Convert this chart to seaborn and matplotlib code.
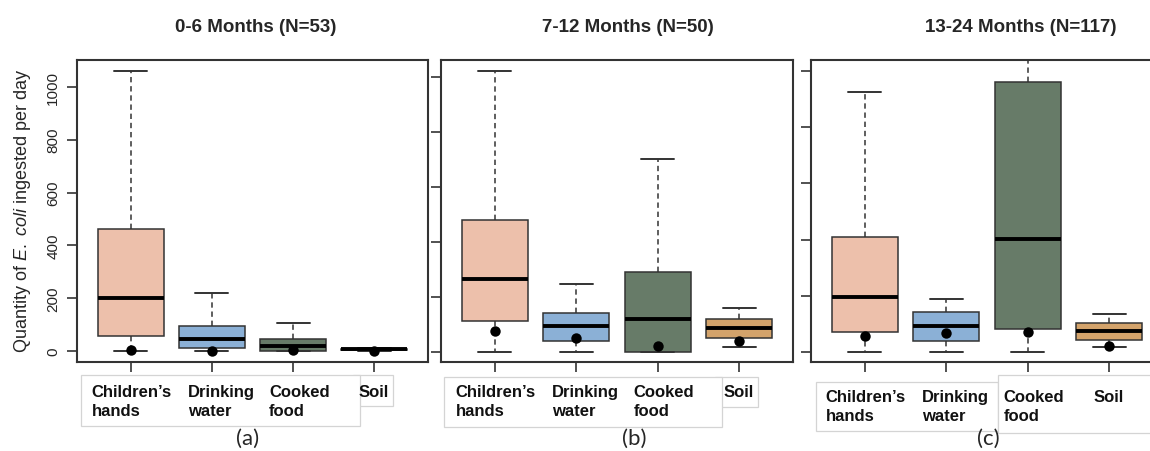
import numpy as np
import pandas as pd
import seaborn as sns
import matplotlib
matplotlib.use("Agg")
import matplotlib.pyplot as plt
import matplotlib.transforms as mtransforms
from matplotlib.patches import Rectangle

# ---------------- data ----------------
categories = ["Children's hands", "Drinking water", "Cooked food", "Soil"]
tick_labels = ["Children\u2019s\nhands", "Drinking\nwater", "Cooked\nfood", "Soil"]
panel_titles = ["0-6 Months (N=53)", "7-12 Months (N=50)", "13-24 Months (N=117)"]
panel_tags = ["(a)", "(b)", "(c)"]
y_ticks = [0, 200, 400, 600, 800, 1000]
colors = ["#EDC0AB", "#8BB0D6", "#677B68", "#D3A36B"]

# five-number summaries: [lower whisker, Q1, median, Q3, upper whisker]
hands_0_6 = [0, 56, 201, 462, 1061]
water_0_6 = [0, 11, 44, 96, 220]
food_0_6 = [0, 1, 20, 46, 107]
soil_0_6 = [0, 3, 6, 9, 12]
dots_0_6 = [5, -2, 2, -1]

hands_7_12 = [0, 113, 267, 479, 1022]
water_7_12 = [0, 42, 95, 143, 249]
food_7_12 = [0, 0, 121, 291, 701]
soil_7_12 = [19, 51, 86, 119, 161]
dots_7_12 = [78, 50, 23, 41]

hands_13_24 = [0, 70, 195, 410, 925]
water_13_24 = [0, 40, 93, 143, 189]
food_13_24 = [0, 81, 403, 962, 1150]
soil_13_24 = [18, 44, 74, 102, 134]
dots_13_24 = [55, 67, 72, 21]

summaries = [
    [hands_0_6, water_0_6, food_0_6, soil_0_6],
    [hands_7_12, water_7_12, food_7_12, soil_7_12],
    [hands_13_24, water_13_24, food_13_24, soil_13_24],
]
dots = [dots_0_6, dots_7_12, dots_13_24]

# ---------------- style ----------------
sns.set_theme(style="ticks")
plt.rcParams["font.family"] = ["Liberation Sans", "DejaVu Sans"]
plt.rcParams["mathtext.fontset"] = "custom"
plt.rcParams["mathtext.rm"] = "Liberation Sans"
plt.rcParams["mathtext.it"] = "Liberation Sans:italic"

W, H = 1150, 452
fig = plt.figure(figsize=(W / 100, H / 100), dpi=100)

def px_rect(x, y, w, h):
    return [x / W, 1 - (y + h) / H, w / W, h / H]

axes_px = [(77, 61, 351, 302), (441, 61, 352, 302), (811, 61, 352, 302)]
ylims = [(-42, 1102), (-36, 1062), (-36, 1039)]
title_pos = [(256, 27), (628, 27), (1021, 27)]
tag_pos = [(248, 439), (634, 439), (988, 439)]
label_dx = [-39, -24, -24, -16]
label_dy = [22, 22, 27]

# white label "cards" behind the category labels
cards = [
    [(353, 376, 40, 31), (81, 376, 279, 51)],
    [(715, 378, 43, 30), (444, 378, 278, 50)],
    [(816, 383, 182, 49), (998, 376, 170, 58)],
]
for group in cards:
    for (x, y, w, h) in group:
        fig.add_artist(Rectangle((x / W, 1 - (y + h) / H), w / W, h / H,
                                 transform=fig.transFigure, facecolor="white",
                                 edgecolor="#d4d4d4", linewidth=0.9, zorder=0))

palette = dict(zip(categories, colors))

for i in range(3):
    ax = fig.add_axes(px_rect(*axes_px[i]))
    df = pd.DataFrame({
        "source": np.repeat(categories, 5),
        "value": np.concatenate(summaries[i]).astype(float),
    })
    sns.boxplot(data=df, x="source", y="value", hue="source", order=categories,
                hue_order=categories, palette=palette, saturation=1, width=0.81,
                whis=(0, 100), linecolor="#333333", linewidth=1.1, legend=False,
                showfliers=False, ax=ax, capwidths=0.405,
                medianprops=dict(color="black", linewidth=2.8),
                whiskerprops=dict(color="#333333", linewidth=1.1, linestyle=(0, (3.5, 2.5))),
                capprops=dict(color="#333333", linewidth=1.4))
    sns.stripplot(x=categories, y=dots[i], order=categories, jitter=False,
                  color="black", size=7.5, ax=ax, zorder=5)

    ax.set_xlim(-0.66, 3.66)
    ax.set_ylim(*ylims[i])
    ax.set_yticks(y_ticks)
    ax.set_xticks(range(4))
    ax.set_xticklabels([])
    ax.set_xlabel("")
    ax.set_ylabel("")
    for s in ax.spines.values():
        s.set_visible(True)
        s.set_color("#333333")
        s.set_linewidth(1.5)
    ax.tick_params(axis="both", length=7, width=1.2, color="#333333", direction="out")
    if i == 0:
        ax.tick_params(axis="y", labelrotation=90, labelsize=11, pad=5)
        for lbl in ax.get_yticklabels():
            lbl.set_va("center")
    else:
        ax.set_yticklabels([])

    for j, lab in enumerate(tick_labels):
        tr = ax.get_xaxis_transform() + mtransforms.ScaledTranslation(
            label_dx[j] / 100, -label_dy[i] / 100, fig.dpi_scale_trans)
        ax.text(j, 0, lab, transform=tr, ha="left", va="top", fontsize=12,
                fontweight="bold", linespacing=1.35, clip_on=False, color="#111111")

    fig.text(title_pos[i][0] / W, 1 - title_pos[i][1] / H, panel_titles[i],
             ha="center", va="center", fontsize=13.5, fontweight="bold")
    fig.text(tag_pos[i][0] / W, 1 - tag_pos[i][1] / H, panel_tags[i],
             ha="center", va="center", fontsize=16, family=["Lato", "DejaVu Sans"])

fig.text(23 / W, 1 - 211 / H, r"Quantity of $\it{E.\ coli}$ ingested per day",
         rotation=90, ha="center", va="center", fontsize=13)

fig.savefig("out.png", dpi=100)
